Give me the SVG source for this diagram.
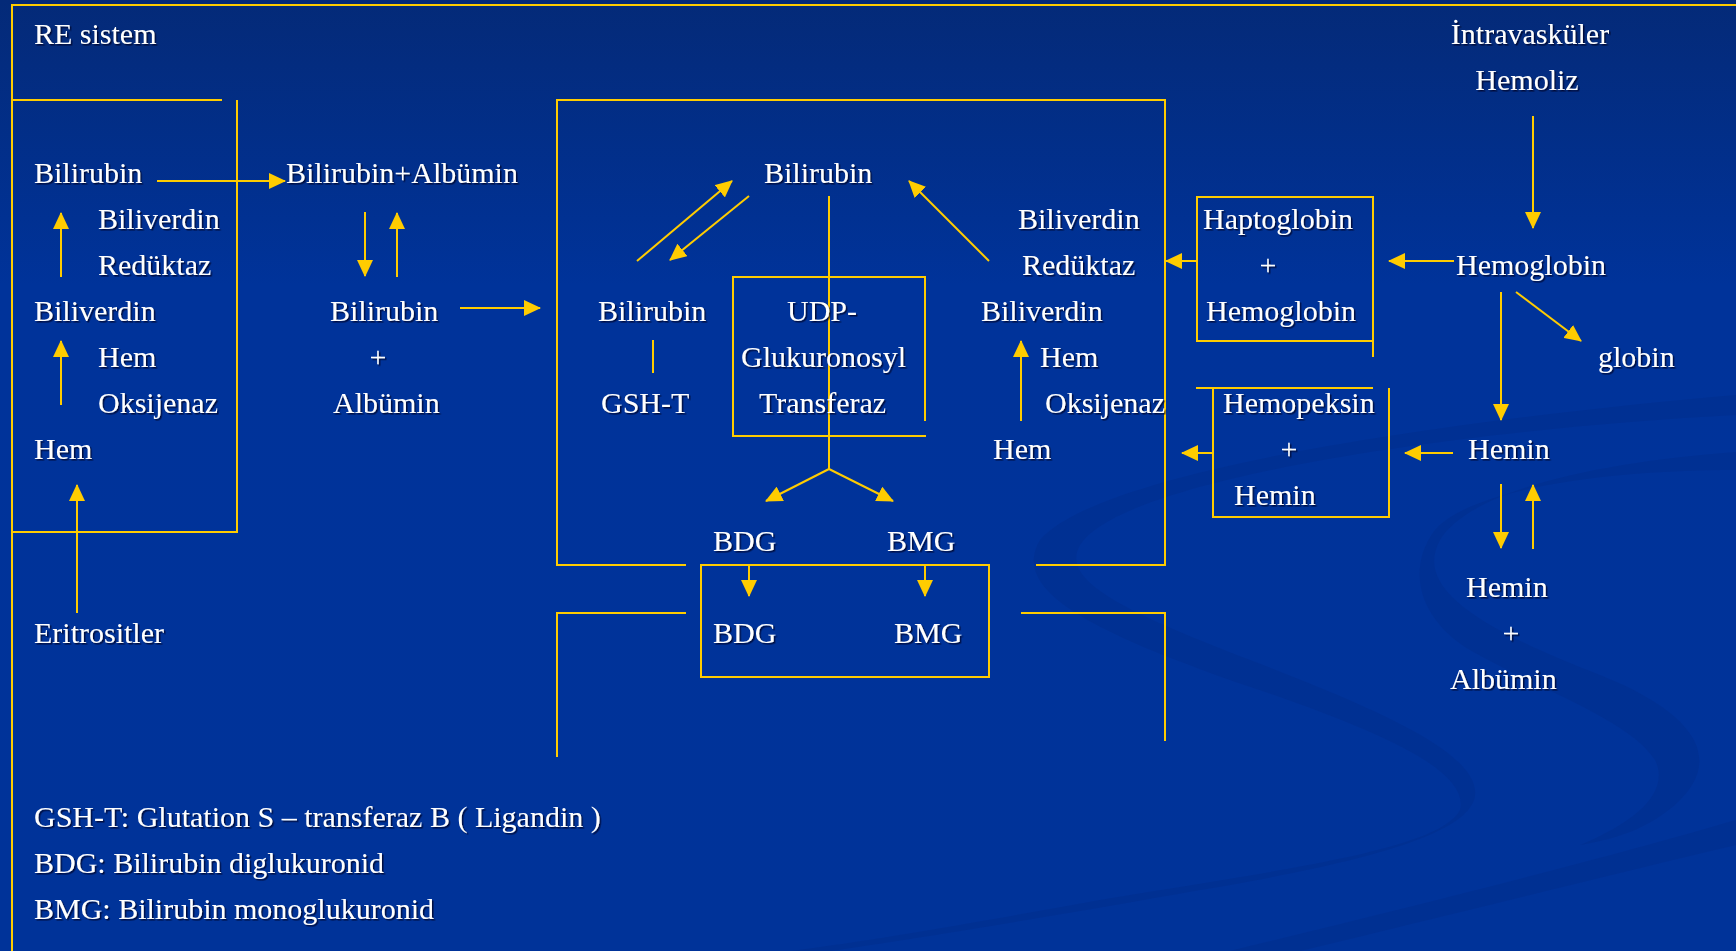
<svg xmlns="http://www.w3.org/2000/svg" width="1736" height="951" viewBox="0 0 1736 951">
<defs>
<linearGradient id="bg" x1="0" y1="0" x2="0" y2="1">
<stop offset="0" stop-color="#042a78"/>
<stop offset="0.3" stop-color="#00339a"/>
<stop offset="1" stop-color="#003399"/>
</linearGradient>
<filter id="sh" x="-5%" y="-20%" width="110%" height="140%">
<feDropShadow dx="1.5" dy="1.5" stdDeviation="0.6" flood-color="#000022" flood-opacity="0.75"/>
</filter>
<marker id="ah" viewBox="0 0 17 16" refX="16" refY="8" markerWidth="17" markerHeight="16" markerUnits="userSpaceOnUse" orient="auto">
<path d="M0,0 L17,8 L0,16 Z" fill="#ffcc00"/>
</marker>
<style>
.t{font-family:"Liberation Serif","Times New Roman",serif;font-size:30px;fill:#ffffff;filter:url(#sh)}
.c{text-anchor:middle}
.ln{fill:none;stroke:#ffcc00;stroke-width:2}
.ar{fill:none;stroke:#ffcc00;stroke-width:2;marker-end:url(#ah)}
.sw{fill:#002d8c;opacity:0.5}
</style>
</defs>
<rect width="1736" height="951" fill="url(#bg)"/>
<g id="swoosh">
<path class="sw" d="M1736,452 C1600,462 1470,490 1440,540 C1415,585 1470,625 1600,675 C1700,715 1720,760 1680,800 C1650,830 1610,840 1580,845 C1640,820 1670,790 1655,760 C1630,720 1540,690 1470,650 C1420,620 1405,570 1435,530 C1470,490 1600,470 1736,470 Z"/>
<path class="sw" d="M1736,395 C1450,420 1100,470 1040,540 C1010,590 1090,630 1230,680 C1380,730 1470,770 1460,810 C1440,850 1280,870 1100,900 C1000,918 880,940 790,951 L830,951 C920,938 1060,915 1200,890 C1380,860 1480,830 1475,790 C1470,750 1380,710 1250,660 C1120,610 1060,580 1080,545 C1120,480 1450,430 1736,415 Z"/>
<path class="sw" d="M1736,820 C1600,860 1400,910 1230,951 L1300,951 C1450,915 1610,875 1736,845 Z"/>
</g>
<g id="connectors">
<path class="ln" d="M12,951 V5 H1736"/>
<path class="ln" d="M12,100 H222 M237,100 V532 H12"/>
<path class="ln" d="M686,565 H557 V100 H1165 V565 H1036"/>
<path class="ln" d="M686,613 H557 V757 M1021,613 H1165 V741"/>
<rect class="ln" x="701" y="565" width="288" height="112"/>
<path class="ln" d="M925,421 V277 H733 V436 H926"/>
<path class="ln" d="M829,196 V469"/>
<path class="ar" d="M829,469 L766,501"/>
<path class="ar" d="M829,469 L893,501"/>
<path class="ln" d="M653,340 V373"/>
<path class="ln" d="M1373,357 V197 H1197 V341 H1373"/>
<path class="ln" d="M1196,388 H1373 M1213,388 V517 H1389 V388"/>
<path class="ar" d="M157,181 H285"/>
<path class="ar" d="M61,277 V213"/>
<path class="ar" d="M61,405 V341"/>
<path class="ar" d="M77,613 V485"/>
<path class="ar" d="M365,212 V276"/>
<path class="ar" d="M397,277 V213"/>
<path class="ar" d="M460,308 H540"/>
<path class="ar" d="M637,261 L732,181"/>
<path class="ar" d="M749,196 L670,260"/>
<path class="ar" d="M989,261 L909,181"/>
<path class="ar" d="M1021,421 V341"/>
<path class="ar" d="M749,565 V596"/>
<path class="ar" d="M925,565 V596"/>
<path class="ar" d="M1197,261 H1166"/>
<path class="ar" d="M1454,261 H1389"/>
<path class="ar" d="M1533,116 V228"/>
<path class="ar" d="M1516,292 L1581,341"/>
<path class="ar" d="M1501,292 V420"/>
<path class="ar" d="M1213,453 H1182"/>
<path class="ar" d="M1453,453 H1405"/>
<path class="ar" d="M1501,484 V548"/>
<path class="ar" d="M1533,549 V485"/>
</g>
<g id="re-sistem"><text class="t" x="34" y="44">RE sistem</text></g>
<g id="re-bilirubin"><text class="t" x="34" y="183">Bilirubin</text></g>
<g id="re-biliverdin-reduktaz"><text class="t" x="98" y="229">Biliverdin</text><text class="t" x="98" y="275">Redüktaz</text></g>
<g id="re-biliverdin"><text class="t" x="34" y="321">Biliverdin</text></g>
<g id="re-hem-oksijenaz"><text class="t" x="98" y="367">Hem</text><text class="t" x="98" y="413">Oksijenaz</text></g>
<g id="re-hem"><text class="t" x="34" y="459">Hem</text></g>
<g id="eritrositler"><text class="t" x="34" y="643">Eritrositler</text></g>
<g id="bilirubin-albumin"><text class="t" x="286" y="183">Bilirubin+Albümin</text></g>
<g id="bilirubin-plus-albumin"><text class="t" x="330" y="321">Bilirubin</text><text class="t c" x="378" y="367">+</text><text class="t" x="333" y="413">Albümin</text></g>
<g id="liver-bilirubin"><text class="t" x="764" y="183">Bilirubin</text></g>
<g id="liver-bilirubin-gsht"><text class="t" x="598" y="321">Bilirubin</text><text class="t" x="601" y="413">GSH-T</text></g>
<g id="udp"><text class="t" x="787" y="321">UDP-</text><text class="t" x="741" y="367">Glukuronosyl</text><text class="t" x="759" y="413">Transferaz</text></g>
<g id="liver-biliverdin-reduktaz"><text class="t" x="1018" y="229">Biliverdin</text><text class="t" x="1022" y="275">Redüktaz</text></g>
<g id="liver-biliverdin"><text class="t" x="981" y="321">Biliverdin</text></g>
<g id="liver-hem-oksijenaz"><text class="t" x="1040" y="367">Hem</text><text class="t" x="1045" y="413">Oksijenaz</text></g>
<g id="liver-hem"><text class="t" x="993" y="459">Hem</text></g>
<g id="bdg1"><text class="t" x="713" y="551">BDG</text></g>
<g id="bmg1"><text class="t" x="887" y="551">BMG</text></g>
<g id="bdg2"><text class="t" x="713" y="643">BDG</text></g>
<g id="bmg2"><text class="t" x="894" y="643">BMG</text></g>
<g id="hemoliz"><text class="t c" x="1530" y="44">İntravasküler</text><text class="t c" x="1527" y="90">Hemoliz</text></g>
<g id="haptoglobin"><text class="t" x="1203" y="229">Haptoglobin</text><text class="t c" x="1268" y="275">+</text><text class="t" x="1206" y="321">Hemoglobin</text></g>
<g id="hemoglobin"><text class="t" x="1456" y="275">Hemoglobin</text></g>
<g id="globin"><text class="t" x="1598" y="367">globin</text></g>
<g id="hemopeksin"><text class="t" x="1223" y="413">Hemopeksin</text><text class="t c" x="1289" y="459">+</text><text class="t" x="1234" y="505">Hemin</text></g>
<g id="hemin"><text class="t" x="1468" y="459">Hemin</text></g>
<g id="hemin-albumin"><text class="t" x="1466" y="597">Hemin</text><text class="t c" x="1511" y="643">+</text><text class="t" x="1450" y="689">Albümin</text></g>
<g id="legend"><text class="t" x="34" y="827">GSH-T: Glutation S – transferaz B ( Ligandin )</text><text class="t" x="34" y="873">BDG: Bilirubin diglukuronid</text><text class="t" x="34" y="919">BMG: Bilirubin monoglukuronid</text></g>
</svg>
